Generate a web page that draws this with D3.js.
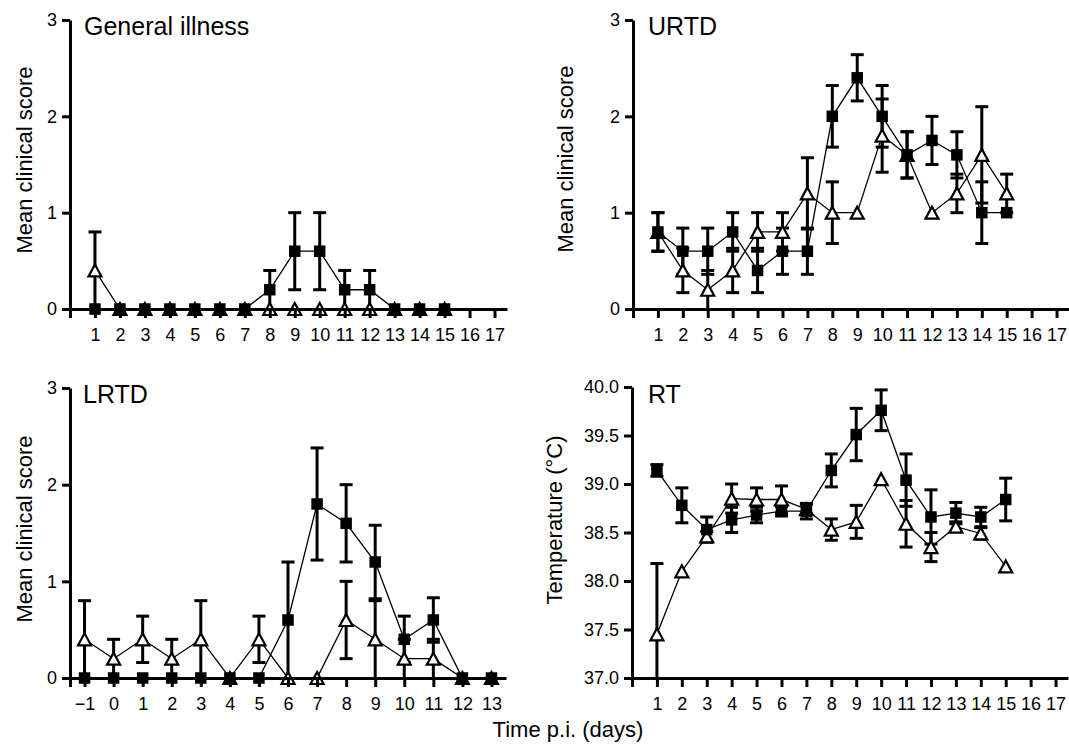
<!DOCTYPE html>
<html lang="en">
<head>
<meta charset="UTF-8">
<title>Mean clinical scores and rectal temperature</title>
<script src="https://d3js.org/d3.v7.min.js"></script>
<style>
  body { margin: 0; background: #fff; }
  svg text { font-family: "Liberation Sans", Arial, Helvetica, sans-serif; fill: #000; }
</style>
</head>
<body>
<svg width="1069" height="746"></svg>
<script>
// ---- data ----
const daysMain = [1, 2, 3, 4, 5, 6, 7, 8, 9, 10, 11, 12, 13, 14, 15];
const daysLrtd = [-1, 0, 1, 2, 3, 4, 5, 6, 7, 8, 9, 10, 11, 12, 13];

const xTicksMain = [1, 2, 3, 4, 5, 6, 7, 8, 9, 10, 11, 12, 13, 14, 15, 16, 17];
const xTicksLrtd = [-1, 0, 1, 2, 3, 4, 5, 6, 7, 8, 9, 10, 11, 12, 13];
const scoreTicks = [0, 1, 2, 3];
const tempTicks = [37.0, 37.5, 38.0, 38.5, 39.0, 39.5, 40.0];

// General illness
const giFilled    = [0, 0, 0, 0, 0, 0, 0, 0.2, 0.6, 0.6, 0.2, 0.2, 0, 0, 0];
const giFilledErr = [0, 0, 0, 0, 0, 0, 0, 0.2, 0.4, 0.4, 0.2, 0.2, 0, 0, 0];
const giOpen      = [0.4, 0, 0, 0, 0, 0, 0, 0, 0, 0, 0, 0, 0, 0, 0];
const giOpenErr   = [0.4, 0, 0, 0, 0, 0, 0, 0, 0, 0, 0, 0, 0, 0, 0];

// URTD
const urFilled    = [0.8, 0.6, 0.6, 0.8, 0.4, 0.6, 0.6, 2.0, 2.4, 2.0, 1.6, 1.75, 1.6, 1.0, 1.0];
const urFilledErr = [0.2, 0.24, 0.24, 0.2, 0.23, 0.24, 0.24, 0.32, 0.24, 0.32, 0.24, 0.25, 0.24, 0.32, 0];
const urOpen      = [0.8, 0.4, 0.2, 0.4, 0.8, 0.8, 1.2, 1.0, 1.0, 1.8, 1.6, 1.0, 1.2, 1.6, 1.2];
const urOpenErr   = [0.2, 0.23, 0.2, 0.23, 0.2, 0.2, 0.37, 0.32, 0, 0.38, 0.24, 0, 0.2, 0.5, 0.2];

// LRTD
const lrFilled    = [0, 0, 0, 0, 0, 0, 0, 0.6, 1.8, 1.6, 1.2, 0.4, 0.6, 0, 0];
const lrFilledErr = [0, 0, 0, 0, 0, 0, 0, 0.6, 0.58, 0.4, 0.38, 0.24, 0.23, 0, 0];
const lrOpen      = [0.4, 0.2, 0.4, 0.2, 0.4, 0, 0.4, 0, 0, 0.6, 0.4, 0.2, 0.2, 0, 0];
const lrOpenErr   = [0.4, 0.2, 0.24, 0.2, 0.4, 0, 0.24, 0, 0, 0.4, 0.4, 0.2, 0.2, 0, 0];

// RT (rectal temperature)
const rtFilled    = [39.14, 38.78, 38.53, 38.63, 38.68, 38.72, 38.72, 39.14, 39.51, 39.76, 39.04, 38.66, 38.70, 38.66, 38.84];
const rtFilledErr = [0.06, 0.18, 0.13, 0.13, 0.08, 0.05, 0.08, 0.17, 0.27, 0.21, 0.27, 0.28, 0.11, 0.10, 0.22];
const rtOpen      = [37.45, 38.10, 38.46, 38.85, 38.84, 38.84, 38.74, 38.53, 38.61, 39.05, 38.59, 38.35, 38.56, 38.49, 38.15];
const rtOpenErr   = [0.73, 0, 0.05, 0.15, 0.12, 0.14, 0.05, 0.11, 0.17, 0, 0.24, 0.15, 0.05, 0.06, 0];

// ---- layout ----
const panels = [
  { title: "General illness", ylabel: "Mean clinical score",
    days: daysMain, filled: giFilled, filledErr: giFilledErr, open: giOpen, openErr: giOpenErr,
    xDomain: [0, 17.5], yDomain: [0, 3], xTicks: xTicksMain, yTicks: scoreTicks, yFmt: d3.format("d"),
    left: 70, right: 507, top: 20, bottom: 309, labelX: 32, labelY: 160, titleX: 84, titleY: 35 },
  { title: "URTD", ylabel: "Mean clinical score",
    days: daysMain, filled: urFilled, filledErr: urFilledErr, open: urOpen, openErr: urOpenErr,
    xDomain: [0, 17.5], yDomain: [0, 3], xTicks: xTicksMain, yTicks: scoreTicks, yFmt: d3.format("d"),
    left: 633, right: 1069, top: 20, bottom: 309, labelX: 573, labelY: 159, titleX: 648, titleY: 35 },
  { title: "LRTD", ylabel: "Mean clinical score",
    days: daysLrtd, filled: lrFilled, filledErr: lrFilledErr, open: lrOpen, openErr: lrOpenErr,
    xDomain: [-1.5, 13.5], yDomain: [0, 3], xTicks: xTicksLrtd, yTicks: scoreTicks, yFmt: d3.format("d"),
    left: 70, right: 506, top: 388, bottom: 678, labelX: 32, labelY: 529, titleX: 83, titleY: 403 },
  { title: "RT", ylabel: "Temperature (°C)",
    days: daysMain, filled: rtFilled, filledErr: rtFilledErr, open: rtOpen, openErr: rtOpenErr,
    xDomain: [0, 17.5], yDomain: [37, 40], xTicks: xTicksMain, yTicks: tempTicks, yFmt: d3.format(".1f"),
    left: 632, right: 1068, top: 387, bottom: 678, labelX: 562, labelY: 520, titleX: 648, titleY: 403 }
];

const svg = d3.select("svg");

function drawPanel(p) {
  const g = svg.append("g");
  const x = d3.scaleLinear().domain(p.xDomain).range([p.left, p.right]);
  const y = d3.scaleLinear().domain(p.yDomain).range([p.bottom, p.top]);
  const yMin = p.yDomain[0];

  const series = [
    { vals: p.open, err: p.openErr, shape: "tri" },
    { vals: p.filled, err: p.filledErr, shape: "sq" }
  ].map(s => ({ ...s, pts: p.days.map((d, i) => ({ d: d, v: s.vals[i], e: s.err[i] })) }));

  // error bars
  const eb = g.append("g").attr("stroke", "#000").attr("stroke-width", 3).attr("fill", "none");
  series.forEach(s => {
    s.pts.filter(o => o.e > 0).forEach(o => {
      const cx = x(o.d);
      const hi = y(o.v + o.e);
      const loVal = o.v - o.e;
      const lo = y(Math.max(yMin, loVal));
      eb.append("line").attr("x1", cx).attr("x2", cx).attr("y1", hi).attr("y2", lo);
      eb.append("line").attr("x1", cx - 6.5).attr("x2", cx + 6.5).attr("y1", hi).attr("y2", hi);
      if (loVal > yMin + 1e-9) {
        eb.append("line").attr("x1", cx - 6.5).attr("x2", cx + 6.5).attr("y1", lo).attr("y2", lo);
      }
    });
  });

  // connecting lines
  const line = d3.line().x(o => x(o.d)).y(o => y(o.v));
  series.forEach(s => {
    g.append("path").attr("d", line(s.pts))
      .attr("fill", "none").attr("stroke", "#000").attr("stroke-width", 1.3);
  });

  // markers: open triangles under filled squares
  g.append("g").selectAll("path")
    .data(series[0].pts)
    .join("path")
    .attr("d", o => {
      const cx = x(o.d), cy = y(o.v);
      return `M${cx},${cy - 6}L${cx + 6.5},${cy + 6}L${cx - 6.5},${cy + 6}Z`;
    })
    .attr("fill", "#fff").attr("stroke", "#000").attr("stroke-width", 2.2)
    .attr("stroke-linejoin", "miter");

  g.append("g").selectAll("rect")
    .data(series[1].pts)
    .join("rect")
    .attr("x", o => x(o.d) - 5.75)
    .attr("y", o => y(o.v) - 5.75)
    .attr("width", 11.5).attr("height", 11.5)
    .attr("fill", "#000");

  // axes on top
  const yAxis = g.append("g")
    .attr("transform", `translate(${p.left},0)`)
    .call(d3.axisLeft(y).tickValues(p.yTicks).tickFormat(p.yFmt)
      .tickSize(8).tickSizeOuter(0).tickPadding(5));
  const xAxis = g.append("g")
    .attr("transform", `translate(0,${p.bottom})`)
    .call(d3.axisBottom(x).tickValues(p.xTicks).tickFormat(d3.format("d"))
      .tickSize(9).tickSizeOuter(0).tickPadding(10));

  [yAxis, xAxis].forEach(a => {
    a.attr("font-size", 18).attr("font-family", null);
    a.selectAll("path, line").attr("stroke", "#000").attr("stroke-width", 3);
  });

  // y axis continues below the x axis
  g.append("line")
    .attr("x1", p.left + 0.5).attr("x2", p.left + 0.5)
    .attr("y1", p.bottom).attr("y2", p.bottom + 9)
    .attr("stroke", "#000").attr("stroke-width", 3);

  // title and y label
  g.append("text")
    .attr("x", p.titleX).attr("y", p.titleY)
    .attr("font-size", 25)
    .text(p.title);

  g.append("text")
    .attr("transform", `translate(${p.labelX},${p.labelY}) rotate(-90)`)
    .attr("text-anchor", "middle")
    .attr("font-size", 22)
    .text(p.ylabel);
}

panels.forEach(drawPanel);

svg.append("text")
  .attr("x", 568).attr("y", 737)
  .attr("text-anchor", "middle")
  .attr("font-size", 22)
  .text("Time p.i. (days)");
</script>
</body>
</html>
